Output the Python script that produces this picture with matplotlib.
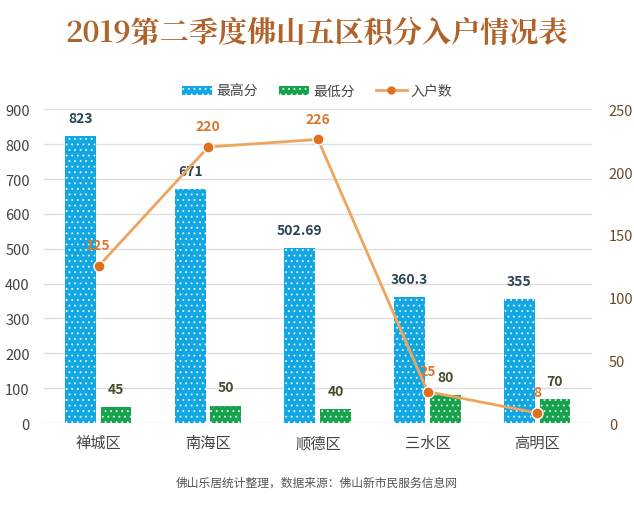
import matplotlib
matplotlib.use('Agg')
import matplotlib.pyplot as plt
import numpy as np
from matplotlib.lines import Line2D
from matplotlib.patches import Patch

plt.rcParams['font.family'] = ['Noto Sans CJK SC', 'DejaVu Sans']
plt.rcParams['hatch.linewidth'] = 0.6

districts = ['禅城区', '南海区', '顺德区', '三水区', '高明区']
max_score = [823, 671, 502.69, 360.3, 355]
min_score = [45, 50, 40, 80, 70]
households = [125, 220, 226, 25, 8]
max_labels = ['823', '671', '502.69', '360.3', '355']

blue = '#12a6e2'
green = '#17a24e'
line_col = '#eda55e'
dot_col = '#e0701e'

fig = plt.figure(figsize=(6.34, 5.06), dpi=100)
ax = fig.add_axes([0.069, 0.162, 0.865, 0.62])
ax2 = ax.twinx()

x = np.arange(len(districts))
w = 0.28
ax.bar(x - 0.165, max_score, w, color=blue, edgecolor='#e8f6fc', linewidth=0, hatch='...')
ax.bar(x + 0.16, min_score, w, color=green, edgecolor='#e6f5ea', linewidth=0, hatch='...')

for xi, v, s in zip(x, max_score, max_labels):
    ax.annotate(s, (xi - 0.165, v), xytext=(0, 8), textcoords='offset points',
                ha='center', va='bottom', fontsize=10, fontweight='bold', color='#2c4556')
for xi, v in zip(x, min_score):
    ax.annotate(str(v), (xi + 0.16, v), xytext=(0, 8), textcoords='offset points',
                ha='center', va='bottom', fontsize=10, fontweight='bold', color='#4b4a2c')

ax2.plot(x, households, color=line_col, lw=2, marker='o', markersize=8,
         markerfacecolor=dot_col, markeredgecolor='white', markeredgewidth=1, zorder=5)
for xi, v in zip(x, households):
    ax2.annotate(str(v), (xi, v), xytext=(0, 10), textcoords='offset points',
                 ha='center', va='bottom', fontsize=10, fontweight='bold', color='#d9782c')

ax.set_ylim(0, 900)
ax.set_yticks(range(0, 901, 100))
ax2.set_ylim(0, 250)
ax2.set_yticks(range(0, 251, 50))
ax.set_xlim(-0.5, 4.5)
ax.set_xticks(x)
ax.set_xticklabels(districts, fontsize=11, color='#444444')

ax.grid(axis='y', color='#dddddd', lw=1)
ax.set_axisbelow(True)
for a in (ax, ax2):
    for sp in a.spines.values():
        sp.set_visible(False)
    a.tick_params(length=0)
ax.tick_params(axis='y', labelsize=10.5, labelcolor='#444444', pad=10)
ax.tick_params(axis='x', pad=8)
ax2.tick_params(axis='y', labelsize=10.5, labelcolor='#6b4a2a', pad=12)
ax2.set_zorder(ax.get_zorder() + 1)
ax2.patch.set_visible(False)

fig.text(0.5, 0.935, '2019第二季度佛山五区积分入户情况表', ha='center', va='center',
         fontsize=21, fontweight='bold', color='#b0622a',
         family=['Noto Serif CJK SC', 'Noto Sans CJK SC', 'DejaVu Sans'])

handles = [Patch(facecolor=blue, edgecolor='#e8f6fc', hatch='...', linewidth=0),
           Patch(facecolor=green, edgecolor='#e6f5ea', hatch='...', linewidth=0),
           Line2D([], [], color=line_col, lw=2, marker='o', markersize=5,
                  markerfacecolor=dot_col, markeredgecolor=dot_col)]
fig.legend(handles, ['最高分', '最低分', '入户数'], loc='center', bbox_to_anchor=(0.5, 0.818),
           ncol=3, frameon=False, fontsize=10, handlelength=2.2, handleheight=0.6,
           columnspacing=1.5, handletextpad=0.3, labelcolor='#444444')

fig.text(0.5, 0.046, '佛山乐居统计整理，数据来源：佛山新市民服务信息网', ha='center', va='center',
         fontsize=8.5, color='#555555')

fig.savefig('out.png', dpi=100, facecolor='white')
